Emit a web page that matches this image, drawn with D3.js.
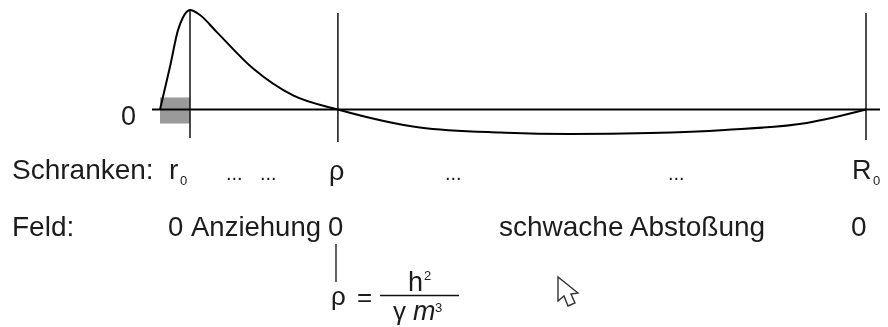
<!DOCTYPE html>
<html>
<head>
<meta charset="utf-8">
<script src="https://cdnjs.cloudflare.com/ajax/libs/d3/7.8.5/d3.min.js"></script>
<style>
  html, body { margin: 0; padding: 0; background: #fff; }
  svg { display: block; filter: blur(0.4px); }
  text { font-family: "Liberation Sans", Arial, sans-serif; fill: #1c1c1c; }
</style>
</head>
<body>
<svg id="chart" width="888" height="327"></svg>
<script>
// distance r (0 = r0, 100 = R0) and field value
var radius = [0, 1.4, 2.55, 3.25, 4.25, 5.65, 8.05, 13.15, 18.85, 25.2, 36.8, 48.15, 58.05, 69.4, 80, 91.6, 100];
var field = [0, 42.4, 79.8, 92.5, 100, 95, 77.8, 41.4, 14.1, 0, -18, -23.2, -24.7, -23.6, -20.5, -13.5, 0];

var barriers = [4.25, 25.2, 100];
var shadeRange = [0, 4.25];
var shadeField = [12.1, -14.1];

var schrankenLabels = ['...', '...', 'ρ', '...', '...'];
var feldLabels = ['Feld:', '0', 'Anziehung', '0', 'schwache Abstoßung', '0'];

var svg = d3.select('#chart');

var x = d3.scaleLinear().domain([0, 100]).range([160, 866]);
var y = d3.scaleLinear().domain([0, 100]).range([109.5, 10]);

svg.append('rect')
  .attr('x', x(shadeRange[0]))
  .attr('y', y(shadeField[0]))
  .attr('width', x(shadeRange[1]) - x(shadeRange[0]))
  .attr('height', y(shadeField[1]) - y(shadeField[0]))
  .attr('fill', '#9a9a9a');

// x axis, only the line
svg.append('line')
  .attr('x1', 152).attr('x2', 880)
  .attr('y1', y(0)).attr('y2', y(0))
  .style('stroke', '#000').style('stroke-width', 1.8);

var barrierTops = [10, 13, 13];
var barrierBottoms = [138, 142, 140];
svg.append('g').selectAll('line')
  .data(barriers)
  .enter()
  .append('line')
  .attr('x1', function(d) { return x(d); })
  .attr('x2', function(d) { return x(d); })
  .attr('y1', function(d, i) { return barrierTops[i]; })
  .attr('y2', function(d, i) { return barrierBottoms[i]; })
  .style('stroke', '#111').style('stroke-width', 1.5);

var line = d3.line()
  .x(function(d, i) { return x(radius[i]); })
  .y(function(d) { return y(d); })
  .curve(d3.curveMonotoneX);

svg.append('path')
  .attr('d', line(field))
  .style('fill', 'none')
  .style('stroke', '#000')
  .style('stroke-width', 2);

function label(s, px, py, size, anchor, style) {
  return svg.append('text')
    .attr('x', px).attr('y', py)
    .attr('font-size', size)
    .attr('text-anchor', anchor || 'start')
    .attr('font-style', style || 'normal')
    .text(s);
}

label('0', 121, 125, 27);

// Schranken row
label('Schranken:', 12, 179, 28);
label('r', 169, 179, 28);
label('0', 180, 185, 13);
label(schrankenLabels[0], 226, 180, 20);
label(schrankenLabels[1], 260, 180, 20);
label(schrankenLabels[2], 329, 180, 27);
label(schrankenLabels[3], 445, 180, 20);
label(schrankenLabels[4], 668, 180, 20);
label('R', 852, 179, 27);
label('0', 873, 185, 13);

// Feld row
label(feldLabels[0], 12, 236, 28);
label(feldLabels[1], 168, 236, 27.5);
label(feldLabels[2], 191, 236, 27.5);
label(feldLabels[3], 328, 236, 27.5);
label(feldLabels[4], 499, 236, 28);
label(feldLabels[5], 851, 236, 28);

// formula
svg.append('line')
  .attr('x1', 336).attr('x2', 336).attr('y1', 244).attr('y2', 282)
  .style('stroke', '#222').style('stroke-width', 1.4);
label('ρ', 331, 305, 26);
label('=', 357, 306, 26);
svg.append('line')
  .attr('x1', 380).attr('x2', 459).attr('y1', 295.5).attr('y2', 295.5)
  .style('stroke', '#111').style('stroke-width', 1.4);
label('h', 408, 291, 27);
label('2', 424, 280, 13);
label('γ', 393, 320, 26);
label('m', 413, 320, 27, 'start', 'italic');
label('3', 435, 312, 13);

// mouse pointer that is in the screenshot
svg.append('path')
  .attr('d', 'M558,277 L558,301 L564,296 L568,306 L575,303 L571,294 L578,293 Z')
  .style('fill', '#fff').style('stroke', '#333').style('stroke-width', 1.4);
</script>
</body>
</html>
